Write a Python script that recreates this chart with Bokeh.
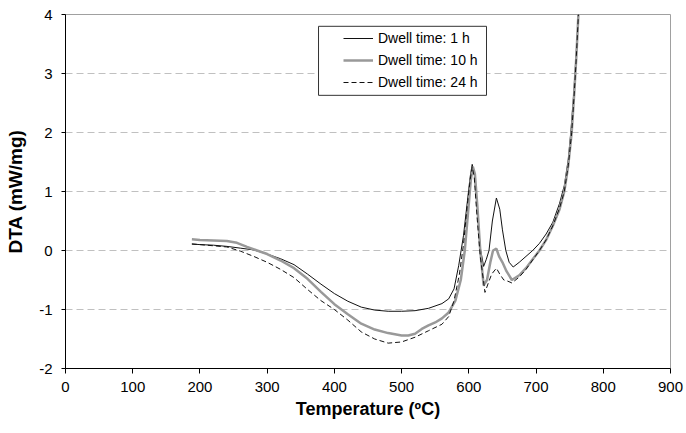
from bokeh.plotting import figure
from bokeh.models import (Range1d, Legend, LegendItem, BoxAnnotation, FixedTicker,
                          CustomJSTickFormatter)
from bokeh.embed import file_html
from bokeh.resources import INLINE

# ---- data ----
t_1h = [188, 200, 220, 240, 260, 280, 300, 320, 340, 360, 380, 400, 420, 440, 460, 480,
        500, 520, 540, 560, 570, 578, 585, 592, 598, 602, 605, 608, 612, 617, 622, 626,
        630, 635, 641, 646, 650, 655, 660, 666, 675, 685, 695, 705, 715, 725, 735, 742,
        748, 752, 756, 760, 763]
dta_1h = [0.11, 0.10, 0.09, 0.07, 0.04, 0.01, -0.06, -0.14, -0.24, -0.40, -0.57, -0.73,
          -0.86, -0.96, -1.01, -1.03, -1.03, -1.02, -0.98, -0.90, -0.82, -0.65, -0.25, 0.25,
          0.85, 1.25, 1.46, 1.32, 0.80, 0.05, -0.27, -0.15, 0.0, 0.5, 0.89, 0.70, 0.35, 0.0,
          -0.2, -0.28, -0.2, -0.1, 0.0, 0.12, 0.28, 0.48, 0.80, 1.10, 1.55, 2.05, 2.65, 3.4, 4.0]

t_10h = [188, 200, 220, 240, 255, 270, 285, 300, 320, 340, 360, 380, 400, 420, 440, 460,
         480, 500, 510, 520, 530, 540, 550, 560, 570, 580, 588, 594, 600, 603, 606, 609,
         613, 617, 622, 627, 632, 636, 641, 645, 650, 656, 664, 675, 685, 695, 705, 715,
         725, 735, 742, 748, 753, 757, 760, 763]
dta_10h = [0.19, 0.18, 0.17, 0.16, 0.13, 0.06, 0.0, -0.06, -0.17, -0.30, -0.48, -0.70,
           -0.91, -1.08, -1.24, -1.34, -1.40, -1.44, -1.44, -1.41, -1.33, -1.27, -1.22,
           -1.15, -1.05, -0.85, -0.5, 0.0, 0.8, 1.2, 1.42, 1.3, 0.7, 0.0, -0.59, -0.5, -0.2,
           0.0, 0.03, -0.1, -0.2, -0.35, -0.5, -0.42, -0.3, -0.15, 0.0, 0.18, 0.42, 0.70,
           1.0, 1.45, 2.0, 2.7, 3.3, 4.0]

t_24h = [188, 200, 220, 240, 260, 280, 300, 320, 340, 360, 380, 400, 420, 440, 460, 480,
         500, 520, 540, 560, 570, 578, 586, 592, 598, 602, 605, 608, 612, 617, 624, 629,
         634, 641, 646, 652, 658, 664, 675, 685, 695, 705, 715, 725, 735, 742, 748, 753,
         757, 760, 763]
dta_24h = [0.11, 0.10, 0.08, 0.06, -0.01, -0.10, -0.20, -0.32, -0.46, -0.66, -0.85, -1.00,
           -1.18, -1.38, -1.50, -1.57, -1.55, -1.47, -1.36, -1.25, -1.12, -0.85, -0.4, 0.1,
           0.8, 1.2, 1.42, 1.25, 0.6, -0.1, -0.71, -0.55, -0.4, -0.3, -0.4, -0.5, -0.52,
           -0.55, -0.45, -0.32, -0.16, 0.0, 0.18, 0.42, 0.72, 1.0, 1.45, 2.0, 2.7, 3.3, 4.0]

labels = ["Dwell time: 1 h", "Dwell time: 10 h", "Dwell time: 24 h"]
x_ticks = [0, 100, 200, 300, 400, 500, 600, 700, 800, 900]
y_ticks = [-2, -1, 0, 1, 2, 3, 4]

FONT = "Liberation Sans"

p = figure(width=684, height=430, output_backend="svg", toolbar_location=None,
           x_range=Range1d(0, 900), y_range=Range1d(-2, 4),
           min_border_left=65, min_border_right=14, min_border_top=14, min_border_bottom=62)

p.outline_line_color = "#a0a0a0"
p.outline_line_width = 1
p.background_fill_color = "white"
p.border_fill_color = "white"

p.xgrid.visible = False
p.ygrid.grid_line_color = "#c0c0c0"
p.ygrid.grid_line_dash = "7 4"
p.ygrid.grid_line_width = 1

fmt = CustomJSTickFormatter(code="return tick.toString();")
for ax in (p.xaxis[0], p.yaxis[0]):
    ax.axis_line_color = "black"
    ax.axis_line_width = 1
    ax.major_tick_line_color = "black"
    ax.major_tick_out = 5
    ax.major_tick_in = 0
    ax.minor_tick_line_color = None
    ax.major_label_text_font = FONT
    ax.major_label_text_font_size = "15px"
    ax.major_label_text_color = "black"
    ax.axis_label_text_font = FONT
    ax.axis_label_text_font_style = "bold"
    ax.axis_label_text_color = "black"
    ax.formatter = fmt

p.xaxis.ticker = FixedTicker(ticks=x_ticks)
p.yaxis.ticker = FixedTicker(ticks=y_ticks)
p.xaxis.axis_label = "Temperature (ºC)"
p.yaxis.axis_label = "DTA (mW/mg)"
p.xaxis.axis_label_text_font_size = "18px"
p.yaxis.axis_label_text_font_size = "19px"
p.xaxis.major_label_standoff = 8
p.xaxis.axis_label_standoff = 4
p.yaxis.major_tick_out = 4
p.yaxis.major_label_standoff = 9
p.yaxis.axis_label_standoff = 10

r1 = p.line(t_1h, dta_1h, line_color="#111111", line_width=1)
r2 = p.line(t_10h, dta_10h, line_color="#999999", line_width=2.5)
r3 = p.line(t_24h, dta_24h, line_color="#111111", line_width=1, line_dash="5 3")

box = BoxAnnotation(left=376.4, right=626.3, top=3.80, bottom=2.63,
                    fill_color="white", fill_alpha=1.0,
                    line_color="#333333", line_width=1, line_alpha=1.0)
p.add_layout(box)

legend = Legend(items=[LegendItem(label=labels[0], renderers=[r1]),
                       LegendItem(label=labels[1], renderers=[r2]),
                       LegendItem(label=labels[2], renderers=[r3])],
                location=(273, 271), border_line_alpha=0, background_fill_alpha=0,
                padding=5, spacing=2, margin=0, glyph_height=20, glyph_width=30,
                label_standoff=5, label_text_font=FONT, label_text_font_size="14px",
                label_text_color="black")
p.add_layout(legend)

open("out.html", "w").write(file_html(p, INLINE))
